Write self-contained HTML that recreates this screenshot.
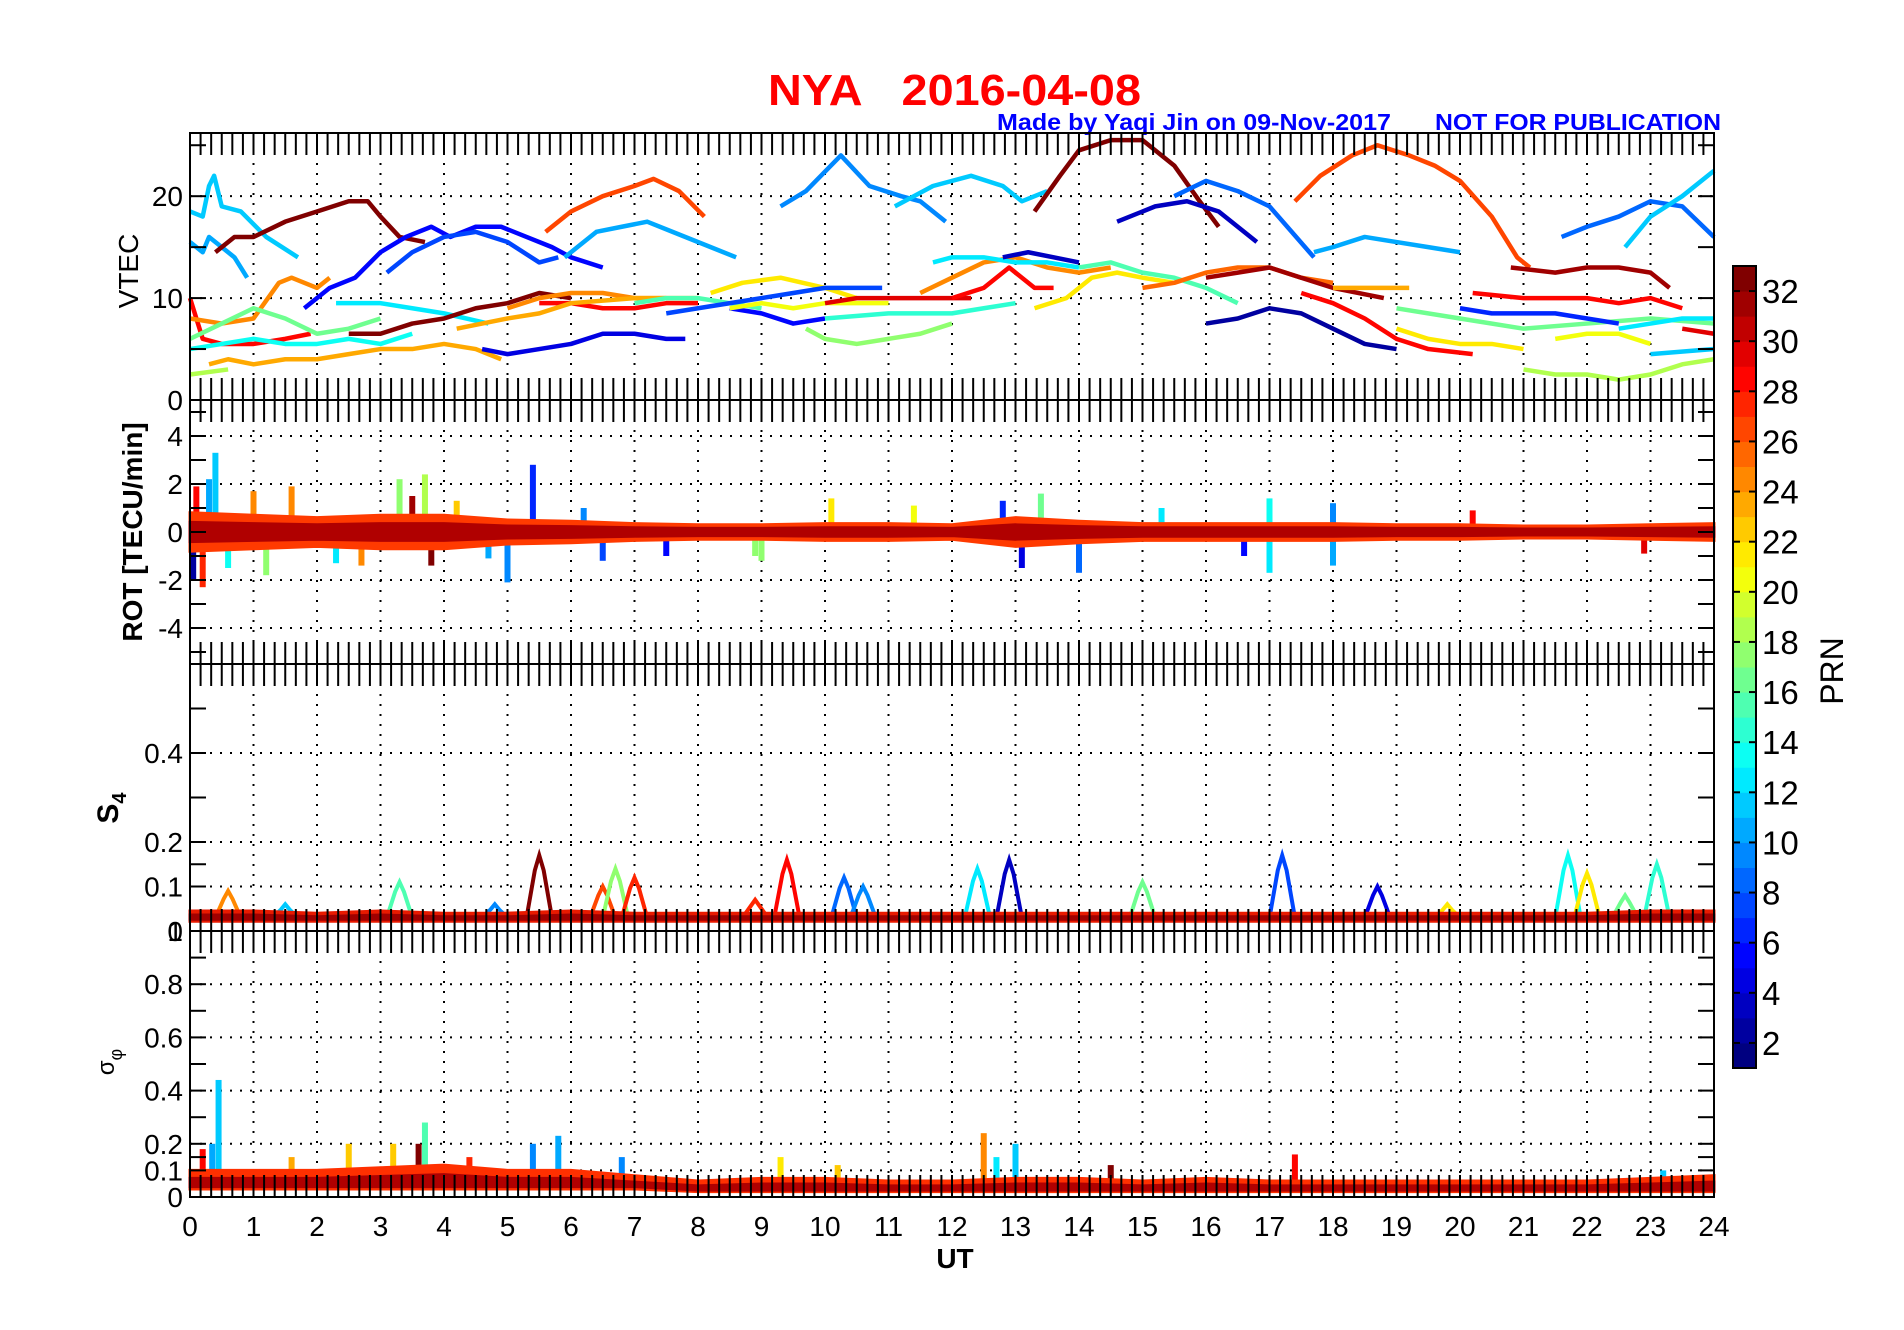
<!DOCTYPE html>
<html><head><meta charset="utf-8"><style>
html,body{margin:0;padding:0;background:#fff;}
svg{display:block;font-family:"Liberation Sans",sans-serif;}
</style></head><body>
<svg id="fig" width="1904" height="1330" viewBox="0 0 1904 1330" xmlns="http://www.w3.org/2000/svg">
<text x="768" y="105" font-size="44" font-weight="bold" fill="#ff0000" textLength="373" lengthAdjust="spacingAndGlyphs">NYA&#160;&#160;&#160;2016-04-08</text>
<text x="997" y="130" font-size="23" font-weight="bold" fill="#0000ff" textLength="394" lengthAdjust="spacingAndGlyphs">Made by Yaqi Jin on 09-Nov-2017</text>
<text x="1435" y="130" font-size="23" font-weight="bold" fill="#0000ff" textLength="286" lengthAdjust="spacingAndGlyphs">NOT FOR PUBLICATION</text>
<g id="plots"></g>
</svg>
<script>
// ---------- data ----------
const hours = [0,1,2,3,4,5,6,7,8,9,10,11,12,13,14,15,16,17,18,19,20,21,22,23,24];
const vtecTicks = [0,10,20];
const rotTicks = [-4,-2,0,2,4];
const s4Ticks = [0,0.1,0.2,0.4];
const sigTicks = [0,0.1,0.2,0.4,0.6,0.8];
const prnTicks = [2,4,6,8,10,12,14,16,18,20,22,24,26,28,30,32];
// VTEC arcs: prn + [hour, TEC] knots
const vtecPrn = [11,10,32,5,7,26,10,9,11,32,3,8,10,26,31,8,11,
  28,23,18,13,24,16,12,32,4,24,28,23,15,21,7,5,20,17,29,14,24,28,12,3,15,21,25,31,2,28,23,21,16,6,28,18,20,12,29,11];
const vtecArcs = [
 [[0,18.5],[0.2,18],[0.3,21],[0.38,22],[0.5,19],[0.8,18.5],[1.2,16],[1.7,14]],
 [[0,15.5],[0.2,14.5],[0.3,16],[0.5,15],[0.7,14],[0.9,12]],
 [[0.4,14.5],[0.7,16],[1,16],[1.5,17.5],[2,18.5],[2.5,19.5],[2.8,19.5],[3,18],[3.3,16],[3.7,15.5]],
 [[1.8,9],[2.2,11],[2.6,12],[3,14.5],[3.4,16],[3.8,17],[4.1,16],[4.5,17],[4.9,17],[5.3,16],[5.7,15],[6,14],[6.5,13]],
 [[3.1,12.5],[3.5,14.5],[4,16],[4.5,16.5],[5,15.5],[5.5,13.5],[5.8,14]],
 [[5.6,16.5],[6,18.5],[6.5,20],[7,21],[7.3,21.7],[7.7,20.5],[8.1,18]],
 [[5.9,14],[6.4,16.5],[6.8,17],[7.2,17.5],[7.6,16.5],[8.2,15],[8.6,14]],
 [[9.3,19],[9.7,20.5],[10.25,24],[10.7,21],[11.2,20],[11.5,19.5],[11.9,17.5]],
 [[11.1,19],[11.7,21],[12.3,22],[12.8,21],[13.1,19.5],[13.5,20.5]],
 [[13.3,18.5],[13.7,22],[14,24.5],[14.5,25.5],[15,25.5],[15.5,23],[15.9,19.5],[16.2,17]],
 [[14.6,17.5],[15.2,19],[15.7,19.5],[16.2,18.5],[16.8,15.5]],
 [[15.5,20],[16,21.5],[16.5,20.5],[17,19],[17.7,14]],
 [[17.7,14.5],[18,15],[18.5,16],[19,15.5],[19.5,15],[20,14.5]],
 [[17.4,19.5],[17.8,22],[18.3,24],[18.7,25],[19.2,24],[19.6,23],[20,21.5],[20.5,18],[20.9,14],[21.1,13]],
 [[20.8,13],[21.5,12.5],[22,13],[22.5,13],[23,12.5],[23.3,11]],
 [[21.6,16],[22,17],[22.5,18],[23,19.5],[23.5,19],[24,16]],
 [[22.6,15],[23,18],[23.5,20],[24,22.5]],
 [[0,10],[0.2,6],[0.5,5.5],[1,5.5],[1.5,6],[1.9,6.5]],
 [[0.3,3.5],[0.6,4],[1,3.5],[1.5,4],[2,4],[2.5,4.5],[3,5],[3.5,5],[4,5.5],[4.5,5],[4.9,4]],
 [[0,2.5],[0.6,3]],
 [[0,5],[0.5,5.5],[1,6],[1.5,5.5],[2,5.5],[2.5,6],[3,5.5],[3.5,6.5]],
 [[0,8],[0.5,7.5],[1,8],[1.4,11.5],[1.6,12],[2,11],[2.2,12]],
 [[0,6],[0.5,7.5],[1,9],[1.5,8],[2,6.5],[2.5,7],[3,8]],
 [[2.3,9.5],[3,9.5],[3.5,9],[4,8.5],[4.7,7.5]],
 [[2.5,6.5],[3,6.5],[3.5,7.5],[4,8],[4.5,9],[5,9.5],[5.5,10.5],[6,10]],
 [[4.6,5],[5,4.5],[5.5,5],[6,5.5],[6.5,6.5],[7,6.5],[7.5,6],[7.8,6]],
 [[5,9],[5.5,10],[6,10.5],[6.5,10.5],[7,10],[7.5,10]],
 [[5.5,9.5],[6,9.5],[6.5,9],[7,9],[7.5,9.5],[8,9.5]],
 [[4.2,7],[5,8],[5.5,8.5],[6,9.5],[7,10],[8,10]],
 [[7,9.5],[7.5,10],[8,10],[8.5,9.5],[9,9]],
 [[8.2,10.5],[8.7,11.5],[9.3,12],[10,11],[10.5,10]],
 [[7.5,8.5],[8,9],[9,10],[9.5,10.5],[10,11],[10.9,11]],
 [[8.5,9],[9,8.5],[9.5,7.5],[10,8]],
 [[8.5,9],[9,9.5],[9.5,9],[10,9.5],[11,9.5]],
 [[9.7,7],[10,6],[10.5,5.5],[11,6],[11.5,6.5],[12,7.5]],
 [[10,9.5],[10.5,10],[11,10],[11.5,10],[12,10],[12.3,10]],
 [[10,8],[11,8.5],[12,8.5],[12.5,9],[13,9.5]],
 [[11.5,10.5],[12,12],[12.5,13.5],[13,14],[13.5,13],[14,12.5],[14.5,13]],
 [[12,10],[12.5,11],[12.9,13],[13.3,11],[13.6,11]],
 [[11.7,13.5],[12,14],[12.5,14],[13,13.5],[13.5,13.5],[14,13]],
 [[12.8,14],[13.2,14.5],[13.6,14],[14,13.5]],
 [[14,13],[14.5,13.5],[15,12.5],[15.5,12],[16,11],[16.5,9.5]],
 [[13.3,9],[13.8,10],[14.2,12],[14.6,12.5],[15,12],[15.5,11.5]],
 [[15,11],[15.5,11.5],[16,12.5],[16.5,13],[17,13],[17.5,12],[18,11.5]],
 [[16,12],[16.5,12.5],[17,13],[17.5,12],[18,11],[18.8,10]],
 [[16,7.5],[16.5,8],[17,9],[17.5,8.5],[18,7],[18.5,5.5],[19,5]],
 [[17.5,10.5],[18,9.5],[18.5,8],[19,6],[19.5,5],[20.2,4.5]],
 [[18,11],[18.5,11],[19.2,11]],
 [[19,7],[19.5,6],[20,5.5],[20.5,5.5],[21,5]],
 [[19,9],[20,8],[21,7],[22,7.5],[23,8],[24,7.5]],
 [[20,9],[20.5,8.5],[21,8.5],[21.5,8.5],[22,8],[22.5,7.5]],
 [[20.2,10.5],[21,10],[22,10],[22.5,9.5],[23,10],[23.5,9]],
 [[21,3],[21.5,2.5],[22,2.5],[22.5,2],[23,2.5],[23.5,3.5],[24,4]],
 [[21.5,6],[22,6.5],[22.5,6.5],[23,5.5]],
 [[22.5,7],[23,7.5],[23.5,8],[24,8]],
 [[23.5,7],[24,6.5]],
 [[23,4.5],[24,5]]
];
// ROT envelope per hour (dense core), hours 0..24
const rotUpper = [0.8,0.7,0.6,0.7,0.7,0.5,0.45,0.35,0.3,0.3,0.35,0.35,0.3,0.6,0.45,0.35,0.35,0.35,0.35,0.3,0.3,0.25,0.25,0.3,0.35];
const rotLower = [-0.8,-0.7,-0.6,-0.7,-0.7,-0.5,-0.45,-0.35,-0.3,-0.3,-0.35,-0.35,-0.3,-0.6,-0.45,-0.35,-0.35,-0.35,-0.35,-0.3,-0.3,-0.25,-0.25,-0.3,-0.35];
const rotSpikeT = [0.4,0.3,0.1,0.2,0.05,1,1.2,3.3,3.7,5.4,5,3.8,10.1,12.8,13.4,14,17,17,18,18,20.2,6.5,7.5,9,0.6,1.6,2.3,4.2,4.7,6.2,8.9,11.4,13.1,15.3,16.6,22.9,2.7,3.5];
const rotSpikeV = [3.3,2.2,1.9,-2.3,-2,1.7,-1.8,2.2,2.4,2.8,-2.1,-1.4,1.4,1.3,1.6,-1.7,1.4,-1.7,1.2,-1.4,0.9,-1.2,-1,-1.2,-1.5,1.9,-1.3,1.3,-1.1,1,-1,1.1,-1.5,1,-1,-0.9,-1.4,1.5];
const rotSpikeP = [11,10,28,27,2,24,17,17,18,6,9,32,21,6,16,8,13,12,9,10,28,7,5,17,13,24,12,22,10,9,17,20,4,12,5,29,24,31];
// S4
const s4BaseUpper = [0.045,0.045,0.04,0.045,0.04,0.04,0.045,0.04,0.04,0.04,0.04,0.04,0.04,0.04,0.04,0.04,0.04,0.04,0.04,0.04,0.04,0.04,0.04,0.045,0.045];
const s4BaseLower = [0.022,0.022,0.022,0.022,0.022,0.022,0.022,0.022,0.022,0.022,0.022,0.022,0.022,0.022,0.022,0.022,0.022,0.022,0.022,0.022,0.022,0.022,0.022,0.022,0.022];
const s4PeakT = [0.6,3.3,5.5,6.5,6.7,7,9.4,10.3,10.6,12.4,12.9,15,17.2,18.7,21.7,22,22.6,23.1,1.5,4.8,8.9,19.8];
const s4PeakV = [0.09,0.11,0.17,0.1,0.14,0.12,0.16,0.12,0.1,0.14,0.16,0.11,0.17,0.1,0.17,0.13,0.08,0.15,0.06,0.06,0.07,0.06];
const s4PeakP = [24,15,32,26,17,27,28,8,9,12,3,16,7,4,13,21,16,14,11,9,27,21];
// sigma phi
const sigBaseUpper = [0.1,0.1,0.1,0.11,0.12,0.1,0.1,0.08,0.06,0.07,0.07,0.06,0.06,0.07,0.07,0.06,0.07,0.06,0.06,0.06,0.06,0.06,0.06,0.07,0.08];
const sigBaseLower = [0.03,0.03,0.03,0.03,0.03,0.03,0.03,0.03,0.02,0.02,0.02,0.02,0.02,0.02,0.02,0.02,0.02,0.02,0.02,0.02,0.02,0.02,0.02,0.02,0.02];
const sigSpikeT = [0.45,0.2,2.5,3.2,3.7,3.6,5.4,5.8,12.5,13,9.3,10.2,17.4,23.2,0.35,1.6,4.4,6.8,14.5,12.7];
const sigSpikeV = [0.44,0.18,0.2,0.2,0.28,0.2,0.2,0.23,0.24,0.2,0.15,0.12,0.16,0.1,0.2,0.15,0.15,0.15,0.12,0.15];
const sigSpikeP = [11,28,22,22,15,32,9,10,24,11,21,22,28,11,10,23,27,9,32,12];

// ---------- layout ----------
const X0=190, X1=1714;
const panels = {
 vtec:{top:133,bot:400,min:0,max:26.2},
 rot:{top:400,bot:664,min:-5.5,max:5.5},
 s4:{top:664,bot:931,min:0,max:0.6},
 sig:{top:931,bot:1197,min:0,max:1}
};
const NS='http://www.w3.org/2000/svg';
const root=document.getElementById('plots');
function el(tag,attrs,parent){const e=document.createElementNS(NS,tag);for(const k in attrs)e.setAttribute(k,attrs[k]);(parent||root).appendChild(e);return e;}
function xs(t){return X0+(t/24)*(X1-X0);}
function ys(p,v){return p.bot-(v-p.min)/(p.max-p.min)*(p.bot-p.top);}
function jet(prn){
  const v=(prn-1)/31;
  const f=x=>Math.max(0,Math.min(1,x));
  const r=f(Math.min(4*v-1.5,-4*v+4.5)), g=f(Math.min(4*v-0.5,-4*v+3.5)), b=f(Math.min(4*v+0.5,-4*v+2.5));
  return `rgb(${Math.round(r*255)},${Math.round(g*255)},${Math.round(b*255)})`;
}

function axesFrame(name,p,ticks){
  const g=el('g',{});
  
  
  hours.forEach(h=>{ if(h>0&&h<24){const l=el('line',{x1:xs(h),x2:xs(h),y1:p.top,y2:p.bot,stroke:'#000','stroke-width':2,'stroke-dasharray':'2,8'},g);
    
    }});
  ticks.forEach(v=>{ if(v>p.min&&v<p.max){const l=el('line',{x1:X0,x2:X1,y1:ys(p,v),y2:ys(p,v),stroke:'#000','stroke-width':2,'stroke-dasharray':'2,8'},g);
    
    }});
  return g;
}
function axesTicks(name,p,ticks,minor,labelFmt){
  const g=el('g',{});
  
  
  for(let m=0;m<=144;m++){
    const x=xs(m/6);
    el('line',{x1:x,x2:x,y1:p.top,y2:p.top+22,stroke:'#000','stroke-width':2},g);
    el('line',{x1:x,x2:x,y1:p.bot,y2:p.bot-22,stroke:'#000','stroke-width':2},g);
  }
  minor.forEach(v=>{const y=ys(p,v);
    el('line',{x1:X0,x2:X0+16,y1:y,y2:y,stroke:'#000','stroke-width':2},g);
    el('line',{x1:X1,x2:X1-16,y1:y,y2:y,stroke:'#000','stroke-width':2},g);});
  ticks.forEach(v=>{const y=ys(p,v);
    el('line',{x1:X0,x2:X0+16,y1:y,y2:y,stroke:'#000','stroke-width':2},g);
    el('line',{x1:X1,x2:X1-16,y1:y,y2:y,stroke:'#000','stroke-width':2},g);
    const t=el('text',{x:183,y:y+10,'font-size':28,'text-anchor':'end',fill:'#000'},g);
    t.textContent=labelFmt(v);
    
    
  });
  const r=el('rect',{x:X0,y:p.top,width:X1-X0,height:p.bot-p.top,fill:'none',stroke:'#000','stroke-width':2},g);
  
  
}
function band(name,p,up,lo,color){
  let d='';
  up.forEach((v,i)=>{d+=(i?'L':'M')+xs(i)+','+ys(p,v);});
  for(let i=lo.length-1;i>=0;i--) d+='L'+xs(i)+','+ys(p,lo[i]);
  const e=el('path',{d:d+'Z',fill:color,stroke:color,'stroke-width':3});
  
  
  return e;
}

// VTEC
const P1=panels.vtec;
axesFrame('vtec',P1,vtecTicks);
vtecArcs.forEach((arc,i)=>{
  const pts=arc.map(q=>xs(q[0])+','+ys(P1,q[1])).join(' ');
  const pl=el('polyline',{points:pts,fill:'none',stroke:jet(vtecPrn[i]),'stroke-width':4.5,'stroke-linejoin':'round'});
  
  
});
axesTicks('vtec',P1,vtecTicks,[5,15,25],v=>String(v));

// ROT
const P2=panels.rot;
axesFrame('rot',P2,rotTicks);
rotSpikeT.forEach((t,i)=>{
  const r=el('rect',{x:xs(t)-3,width:6,y:Math.min(ys(P2,0),ys(P2,rotSpikeV[i])),height:Math.abs(ys(P2,rotSpikeV[i])-ys(P2,0)),fill:jet(rotSpikeP[i])});
  
  
});
band('rot-band-outer',P2,rotUpper,rotLower,'#ff3a00');
band('rot-band-core',P2,rotUpper.map(v=>v*0.5),rotLower.map(v=>v*0.5),'#b00000');
axesTicks('rot',P2,rotTicks,[-5,-3,-1,1,3,5],v=>String(v));

// S4
const P3=panels.s4;
axesFrame('s4',P3,s4Ticks);
s4PeakT.forEach((t,i)=>{
  const pts=[[t-0.2,0.03],[t-0.07,s4PeakV[i]*0.8],[t,s4PeakV[i]],[t+0.07,s4PeakV[i]*0.8],[t+0.2,0.03]].map(q=>xs(q[0])+','+ys(P3,q[1])).join(' ');
  const pl=el('polyline',{points:pts,fill:'none',stroke:jet(s4PeakP[i]),'stroke-width':4});
  
  
});
band('s4-band',P3,s4BaseUpper,s4BaseLower,'#e81a00');
band('s4-band-core',P3,s4BaseUpper.map(v=>v*0.8),s4BaseLower.map(v=>v*1.2),'#a00000');
axesTicks('s4',P3,s4Ticks,[0.15,0.3,0.5],v=>String(v));

// sigma phi
const P4=panels.sig;
axesFrame('sig',P4,sigTicks);
sigSpikeT.forEach((t,i)=>{
  const r=el('rect',{x:xs(t)-3,width:6,y:ys(P4,sigSpikeV[i]),height:ys(P4,0.04)-ys(P4,sigSpikeV[i]),fill:jet(sigSpikeP[i])});
  
  
});
band('sigma-band',P4,sigBaseUpper,sigBaseLower,'#ff3000');
band('sigma-band-core',P4,sigBaseUpper.map(v=>v*0.7),sigBaseLower.map(v=>v*1.3),'#b00000');
axesTicks('sig',P4,sigTicks,[0.15,0.3,0.5,0.7,0.9],v=>String(v));
{const t=el('text',{x:183,y:ys(P4,1)+10,'font-size':28,'text-anchor':'end'});t.textContent='1';

}

// x-axis labels
hours.forEach(h=>{const t=el('text',{x:xs(h),y:1236,'font-size':28,'text-anchor':'middle'});t.textContent=String(h);
  
  });
{const t=el('text',{x:955,y:1268,'font-size':28,'font-weight':'bold','text-anchor':'middle'});t.textContent='UT';

}

// y-axis titles
function ytitle(txt,x,y,name,bold,size){const t=el('text',{x:0,y:0,'font-size':size||28,'font-weight':bold?'bold':'normal','text-anchor':'middle',transform:`translate(${x},${y}) rotate(-90)`});t.textContent=txt;
 
 return t;}
ytitle('VTEC',138,271,'vtec-axis-title',false,28);
ytitle('ROT [TECU/min]',142,532,'rot-axis-title',true,28);
{const t=ytitle('S',118,808,'s4-axis-title',true,30);const s=document.createElementNS(NS,'tspan');s.setAttribute('font-size','20');s.setAttribute('dy','8');s.textContent='4';t.appendChild(s);}
{const t=ytitle('σ',114,1062,'sigma-axis-title',false,24);const s=document.createElementNS(NS,'tspan');s.setAttribute('font-size','18');s.setAttribute('dy','8');s.textContent='φ';t.appendChild(s);}

// colorbar
const CB={x:1733,w:23,top:266,bot:1068,min:1,max:33};
const cb=el('g',{});


function cby(v){return CB.bot-(v-CB.min)/(CB.max-CB.min)*(CB.bot-CB.top);}
for(let k=1;k<=32;k++){
  el('rect',{x:CB.x,y:cby(k+1),width:CB.w,height:cby(k)-cby(k+1)+0.5,fill:jet(k)},cb);
}
el('rect',{x:CB.x,y:CB.top,width:CB.w,height:CB.bot-CB.top,fill:'none',stroke:'#000','stroke-width':2},cb);
prnTicks.forEach(v=>{const y=cby(v);
  el('line',{x1:CB.x,x2:CB.x+7,y1:y,y2:y,stroke:'#000','stroke-width':2},cb);
  el('line',{x1:CB.x+CB.w,x2:CB.x+CB.w-7,y1:y,y2:y,stroke:'#000','stroke-width':2},cb);
  const t=el('text',{x:1762,y:y+12,'font-size':33},cb);t.textContent=String(v);
  
  });
ytitle('PRN',1843,671,'colorbar-title',false,32);
</script>
</body></html>
